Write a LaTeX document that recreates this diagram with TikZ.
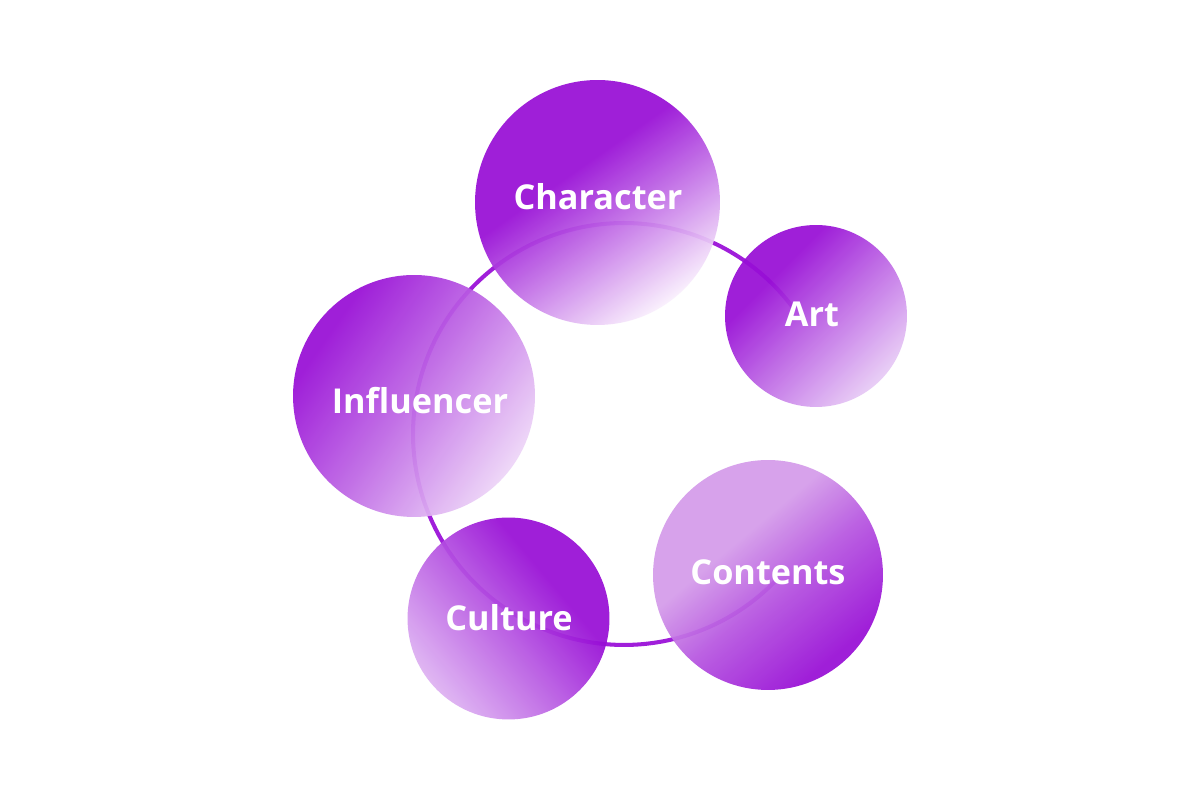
\documentclass[tikz,border=0pt]{standalone}
\usepackage{fontspec}
\newfontfamily\lblfont{Open Sans}
\definecolor{pdark}{RGB}{152,14,214}
\definecolor{ring}{RGB}{160,30,218}
\definecolor{lchar}{RGB}{250,240,253}
\definecolor{lart}{RGB}{232,204,246}
\definecolor{linf}{RGB}{238,214,248}
\definecolor{lcul}{RGB}{222,178,242}
\definecolor{lcon}{RGB}{212,155,234}
\colorlet{mchar}{pdark!55!lchar}
\colorlet{mart}{pdark!55!lart}
\colorlet{minf}{pdark!55!linf}
\colorlet{mcul}{pdark!55!lcul}
\colorlet{mcon}{pdark!50!lcon}
\pgfdeclareverticalshading{charsh}{100bp}{color(0bp)=(lchar); color(25bp)=(lchar); color(43bp)=(mchar); color(58bp)=(pdark); color(100bp)=(pdark)}
\pgfdeclareverticalshading{artsh}{100bp}{color(0bp)=(lart); color(25bp)=(lart); color(48bp)=(mart); color(66bp)=(pdark); color(100bp)=(pdark)}
\pgfdeclareverticalshading{infsh}{100bp}{color(0bp)=(linf); color(25bp)=(linf); color(50bp)=(minf); color(72bp)=(pdark); color(100bp)=(pdark)}
\pgfdeclareverticalshading{culsh}{100bp}{color(0bp)=(lcul); color(25bp)=(lcul); color(47bp)=(mcul); color(64bp)=(pdark); color(100bp)=(pdark)}
\pgfdeclareverticalshading{consh}{100bp}{color(0bp)=(pdark); color(27bp)=(pdark); color(46bp)=(mcon); color(60bp)=(lcon); color(100bp)=(lcon)}
\tikzset{
  bubble/.style={circle, inner sep=0pt, fill opacity=0.93, text opacity=1},
  lbl/.style={text=white, font=\lblfont\bfseries\fontsize{19.5}{24}\selectfont},
}
\begin{document}
\begin{tikzpicture}[x=0.02cm,y=0.02cm]
\useasboundingbox (0,0) rectangle (1200,800);
\fill[white] (0,0) rectangle (1200,800);
\coordinate (rc) at (624,366);
\draw[ring, line width=2.3pt] (rc) ++(37:4.22cm) arc[start angle=37, end angle=316, radius=4.22cm];
\node[bubble, minimum size=4.9cm, shading=charsh, shading angle=35] (char) at (597.5,597.5) {};
\node[bubble, minimum size=3.64cm, shading=artsh, shading angle=45] (art) at (816,484) {};
\node[bubble, minimum size=4.84cm, shading=infsh, shading angle=55] (inf) at (414,404) {};
\node[bubble, minimum size=4.04cm, shading=culsh, shading angle=-50] (cul) at (508.5,181.5) {};
\node[bubble, minimum size=4.6cm, shading=consh, shading angle=40] (con) at (768,225) {};
\node[lbl] (tchar) at (598,603) {Character};
\node[lbl] (tart) at (812,486) {Art};
\node[lbl] (tinf) at (420,399) {Influencer};
\node[lbl] (tcul) at (509,182) {Culture};
\node[lbl] (tcon) at (768,228) {Contents};
\end{tikzpicture}
\end{document}
